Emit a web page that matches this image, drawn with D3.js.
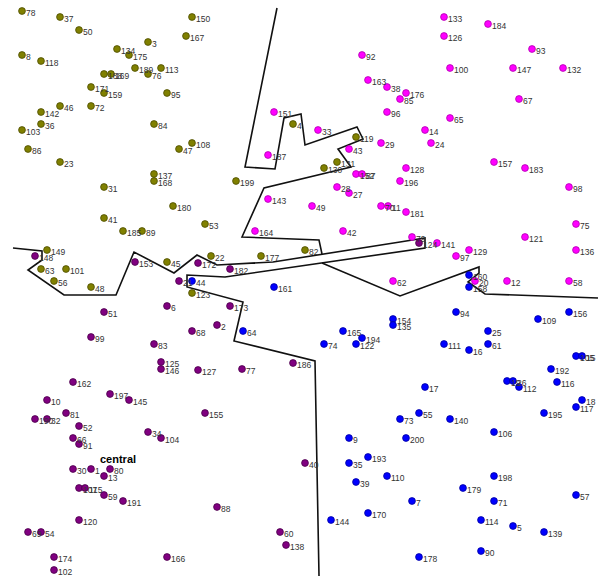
<!DOCTYPE html>
<html>
<head>
<meta charset="utf-8">
<script src="https://cdn.jsdelivr.net/npm/d3@7"></script>
<style>
  body { margin: 0; background: #fff; }
  svg { display: block; }
</style>
</head>
<body>
<div id="sites"></div>
<script>
// site id, x, y (map units) for each of the four clusters
const oliveSites = [
  [78,22,11],[37,60,17],[50,79,30],[150,192,17],[167,186,36],[134,117,49],[3,148,42],
  [175,129,55],[8,22,55],[118,41,61],[189,135,68],[113,161,68],[76,148,74],[188,104,74],
  [169,111,74],[171,91,87],[159,104,93],[95,167,93],[46,60,106],[72,91,106],[142,41,112],
  [36,41,124],[103,22,130],[84,154,124],[108,192,143],[47,179,149],[86,28,149],[23,60,162],
  [137,154,174],[168,154,181],[31,104,187],[199,236,181],[180,173,206],[41,104,218],
  [185,123,231],[89,142,231],[53,205,224],[149,47,250],[63,41,269],[101,66,269],[56,54,281],
  [48,91,287],[45,167,262],[22,211,256],[177,261,256],[82,305,250],[123,192,293],[4,293,124],
  [119,356,137],[131,337,162],[130,324,168]
]
const magentaSites = [
  [133,444,17],[184,488,24],[126,444,36],[93,532,49],[100,450,68],[147,513,68],[132,563,68],
  [92,362,55],[163,368,80],[38,387,87],[176,406,93],[85,400,99],[67,519,99],[96,387,112],
  [151,274,112],[65,450,118],[33,318,130],[14,425,130],[24,431,143],[29,381,143],[43,349,149],
  [187,268,155],[157,494,162],[183,525,168],[128,406,168],[152,356,174],[87,362,174],
  [196,400,181],[98,569,187],[28,337,187],[27,349,193],[143,268,199],[49,312,206],[70,381,206],
  [11,388,206],[181,406,212],[75,576,224],[164,255,231],[42,343,231],[121,525,237],[79,412,237],
  [141,437,243],[129,469,250],[136,576,250],[97,456,256],[62,393,281],[20,475,281],[12,507,281],
  [58,569,281]
]
const purpleSites = [
  [148,35,256],[153,135,262],[172,198,263],[182,230,269],[21,179,281],[124,419,243],[6,167,306],
  [173,230,306],[51,104,312],[2,217,325],[68,192,331],[99,91,337],[83,154,344],[125,161,362],
  [146,161,369],[186,293,363],[127,198,370],[77,242,369],[162,73,382],[197,110,394],[145,129,400],
  [10,47,400],[81,66,413],[155,205,413],[190,35,419],[32,47,419],[52,79,426],[34,148,432],
  [104,161,438],[66,73,438],[91,79,444],[40,305,463],[30,73,469],[1,91,469],[80,110,469],
  [13,104,476],[107,79,488],[115,85,488],[59,104,495],[191,123,501],[88,217,507],[120,79,520],
  [69,28,532],[54,41,532],[60,280,532],[138,286,545],[174,54,557],[166,167,557],[102,54,570]
]
const blueSites = [
  [44,192,281],[161,274,287],[160,469,275],[158,469,287],[94,456,312],[156,569,312],[154,393,319],
  [135,393,325],[109,538,319],[64,243,331],[165,343,331],[25,488,331],[194,362,338],[74,324,344],
  [122,356,344],[111,444,344],[61,488,344],[16,469,350],[105,576,356],[15,582,356],[192,551,369],
  [19,507,381],[26,513,381],[116,557,382],[17,425,387],[112,519,387],[18,582,400],[117,576,407],
  [55,419,413],[195,544,413],[73,400,419],[140,450,419],[106,494,432],[200,406,438],[9,349,438],
  [193,368,457],[35,349,463],[110,387,476],[198,494,476],[39,356,482],[179,463,488],[57,576,495],
  [7,412,501],[71,494,501],[170,368,513],[144,331,520],[114,481,520],[5,513,526],[139,544,532],
  [90,481,551],[178,419,557]
]

// region boundaries
const northBoundary = [[277,8],[245,167],[275,169],[284,118],[301,114],[305,145],[357,127],[363,139],
  [338,149],[351,167],[264,188],[242,237],[319,240],[322,254]]
const westBoundary = [[13,248],[42,251],[42,260],[28,270],[64,295],[116,295],[134,252],[174,273],
  [197,255],[217,265],[273,262],[400,242],[425,238],[425,248],[225,277],[187,275],[187,287],
  [243,302],[234,341],[315,361],[319,576]]
const eastBoundary = [[322,263],[400,296],[479,267],[479,273],[468,282],[485,294],[598,298]]

const regionLabels = [["central",100,463]]

const width = 600, height = 576

const svg = d3.select("#sites")
  .append("svg")
    .attr("width", width)
    .attr("height", height)

svg.append("rect").attr("width", width).attr("height", height).attr("fill", "#fff")

const x = d3.scaleLinear().domain([0, 600]).range([0, width])
const y = d3.scaleLinear().domain([0, 576]).range([0, height])

const line = d3.line().x(d => x(d[0])).y(d => y(d[1]))

svg.selectAll("path.boundary")
  .data([northBoundary, westBoundary, eastBoundary])
  .join("path")
    .attr("class", "boundary")
    .attr("d", line)
    .attr("fill", "none")
    .attr("stroke", "#111")
    .attr("stroke-width", 1.6)
    .attr("stroke-linejoin", "miter")

const clusters = [
  {sites: oliveSites, fill: "#808000", stroke: "#4d4d00"},
  {sites: magentaSites, fill: "#ff00ff", stroke: "#b000b0"},
  {sites: purpleSites, fill: "#800080", stroke: "#4a004a"},
  {sites: blueSites, fill: "#0000ff", stroke: "#0000a0"}
]

const allSites = clusters.flatMap(c => c.sites.map(s => ({id: s[0], x: s[1], y: s[2], c})))

svg.append("g")
  .selectAll("circle")
  .data(allSites)
  .join("circle")
    .attr("cx", d => x(d.x))
    .attr("cy", d => y(d.y))
    .attr("r", 3.4)
    .attr("fill", d => d.c.fill)
    .attr("stroke", d => d.c.stroke)
    .attr("stroke-width", 0.8)

svg.append("g")
  .selectAll("text")
  .data(allSites)
  .join("text")
    .attr("x", d => x(d.x) + 4)
    .attr("y", d => y(d.y) + 5)
    .attr("font-family", "'Liberation Sans', Arial, sans-serif")
    .attr("font-size", 8.5)
    .attr("fill", "#333")
    .text(d => d.id)

svg.selectAll("text.region")
  .data(regionLabels)
  .join("text")
    .attr("class", "region")
    .attr("x", d => x(d[1]))
    .attr("y", d => y(d[2]))
    .attr("font-family", "'Liberation Sans', Arial, sans-serif")
    .attr("font-size", 11)
    .attr("font-weight", "bold")
    .attr("fill", "#000")
    .text(d => d[0])
</script>
</body>
</html>
